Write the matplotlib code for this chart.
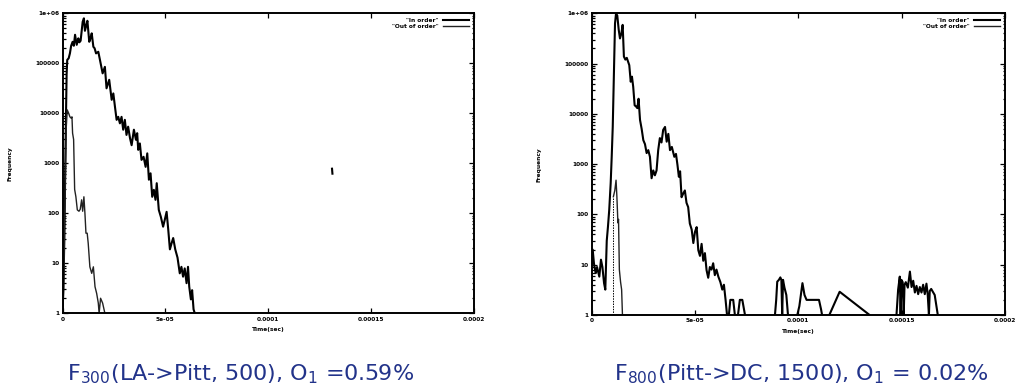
import numpy as np
import matplotlib
matplotlib.use("Agg")
import matplotlib.pyplot as plt
from matplotlib.ticker import FixedLocator, FixedFormatter, LogLocator, NullFormatter

plt.rcParams['font.family'] = ['DejaVu Sans']
plt.rcParams['mathtext.fontset'] = 'dejavusans'

# ---------------- data (time in units of 1e-5 s) ----------------
left_in_t = [0.0, 0.04, 0.08, 0.12, 0.16, 0.2, 0.23, 0.3, 0.36, 0.42, 0.49, 0.55, 0.61, 0.69, 0.77,
             0.82, 0.88, 0.98, 1.04, 1.09, 1.14, 1.21, 1.30, 1.36, 1.42, 1.50, 1.56, 1.63, 1.74, 1.82,
             1.95, 2.06, 2.14, 2.27, 2.39, 2.47, 2.55, 2.63, 2.71, 2.79, 2.87, 2.95, 3.03, 3.11, 3.19,
             3.28, 3.36, 3.47, 3.57, 3.63, 3.68, 3.76, 3.84, 3.94, 4.04, 4.12, 4.20, 4.28, 4.36, 4.44,
             4.52, 4.58, 4.68, 4.78, 4.89, 4.97, 5.06, 5.14, 5.22, 5.30, 5.38, 5.48, 5.59, 5.70, 5.78,
             5.86, 5.94, 6.03, 6.10, 6.16, 6.24, 6.30, 6.37, 6.43, 9.0, 13.10, 13.12]
left_in_v = [1, 3, 20, 300, 5000, 60000, 117000, 126000, 158000, 224000, 269000, 224000, 372000,
             234000, 316000, 263000, 282000, 676000, 794000, 447000, 537000, 708000, 269000, 316000,
             398000, 214000, 200000, 158000, 170000, 117000, 63000, 85000, 31600, 46800, 18600, 25000,
             13500, 7400, 8500, 6300, 8500, 4700, 7400, 3700, 5400, 3200, 2300, 4700, 2950, 4000, 1860,
             2500, 1170, 1350, 850, 1580, 470, 630, 214, 295, 186, 400, 117, 85, 54, 74, 107, 47, 19,
             25, 32, 19, 13, 6.3, 8.5, 5.4, 7.9, 4, 8.5, 3.4, 1.9, 2.9, 1.2, 1, np.nan, 780, 620]

left_out_t = [0.02, 0.06, 0.1, 0.14, 0.18, 0.23, 0.3, 0.36, 0.42, 0.46, 0.49, 0.54, 0.59, 0.65, 0.72,
              0.8, 0.86, 0.93, 0.98, 1.04, 1.09, 1.14, 1.2, 1.25, 1.33, 1.42, 1.5, 1.58, 1.66, 1.74,
              1.78, 1.85, 1.95, 2.06]
left_out_v = [1, 4, 40, 600, 5000, 11700, 10000, 8500, 8000, 8500, 4000, 3000, 300, 215, 117, 110,
              120, 186, 110, 214, 100, 40, 40, 25, 8.5, 6.3, 8.5, 3.4, 2.5, 1.6, 1, 2, 1.6, 1]

right_in_t = [0.0, 0.05, 0.11, 0.16, 0.2, 0.26, 0.32, 0.37, 0.45, 0.52, 0.6, 0.66, 0.73, 0.79, 0.85,
              0.92, 0.97, 1.02, 1.08, 1.13, 1.18, 1.24, 1.31, 1.37, 1.44, 1.50, 1.56, 1.63, 1.70, 1.76,
              1.82, 1.89, 1.95, 2.01, 2.08, 2.15, 2.21, 2.27, 2.34, 2.42, 2.5, 2.58, 2.66, 2.74, 2.82,
              2.9, 2.98, 3.06, 3.14, 3.22, 3.30, 3.38, 3.46, 3.55, 3.63, 3.71, 3.79, 3.88, 4.0, 4.08,
              4.15, 4.22, 4.28, 4.35, 4.43, 4.51, 4.59, 4.67, 4.75, 4.84, 4.92, 5.0, 5.08, 5.16, 5.24,
              5.32, 5.40, 5.48, 5.56, 5.64, 5.72, 5.80, 5.88, 5.96, 6.04, 6.13, 6.23, 6.32, 6.40, 6.48,
              6.55, 6.64, 6.71, 6.85, 6.93, 7.08, 7.17, 7.29, 7.42, 8.0,
              8.87, 8.93, 8.98, 9.06, 9.13, 9.18, 9.22, 9.26, 9.33, 9.42, 9.50, 9.7,
              9.95, 10.05, 10.2, 10.3, 10.4, 11.0, 11.1, 11.15, 11.3,
              11.5, 12.0, 13.45, 14.0,
              14.75, 14.83, 14.91, 14.95, 14.99, 15.05, 15.1, 15.14, 15.2, 15.3, 15.4, 15.48, 15.56,
              15.64, 15.72, 15.8, 15.88, 15.96, 16.04, 16.12, 16.2, 16.26, 16.32, 16.36, 16.43, 16.6,
              16.75]
right_in_v = [10, 20, 10.7, 8, 6.8, 9, 7, 5.8, 12.6, 9, 4.3, 3.2, 30, 58, 123, 417, 1400, 5500,
              74000, 630000, 1000000, 900000, 468000, 316000, 400000, 589000, 138000, 120000, 130000,
              110000, 93000, 43600, 55000, 34700, 14800, 14000, 13000, 20000, 7600, 5000, 3000, 2500,
              1660, 1900, 1400, 525, 750, 600, 750, 1900, 3300, 2700, 4800, 5500, 2800, 4000, 1900,
              2200, 1400, 1600, 980, 560, 720, 220, 260, 300, 170, 140, 66, 50, 27, 45, 56, 19.5, 15,
              26, 12, 17, 7.8, 5.5, 9, 8, 10.7, 6.2, 8, 5.8, 4.5, 3.2, 4, 2,
              1, 1, 2, 2, 1, 1, 2, 2, 1, np.nan,
              1, 2, 4.6, 5, 5.6, 5, 1, 5, 3.5, 2.5, 1, np.nan,
              1, 1.5, 4.3, 2.5, 2, 2, 1.3, 1, np.nan,
              1, 2.9, 1, np.nan,
              1, 3.2, 5.8, 1, 5, 4.5, 1, 4, 4.5, 3.5, 7.3, 3.6, 4.8, 2.8, 3.8, 2.6, 3.6, 2.8, 4, 2.6,
              4.2, 2.6, 1, 3, 3.3, 2.5, 1]

right_out_t = [1.05, 1.05, 1.12, 1.18, 1.22, 1.27, 1.3, 1.34, 1.4, 1.45, 1.49]
right_out_v = [1, 225, 300, 480, 230, 68, 80, 8, 4.5, 3.2, 1]

x_ticks = [0, 5e-05, 0.0001, 0.00015, 0.0002]
x_tick_labels = ["0", "5e-05", "0.0001", "0.00015", "0.0002"]
y_ticks = [1, 10, 100, 1000, 10000, 100000, 1000000]
y_tick_labels = ["1", "10", "100", "1000", "10000", "100000", "1e+06"]
series_labels = ['"In order"', '"Out of order"']
titles = [r"F$_{300}$(LA->Pitt, 500), O$_1$ =0.59%",
          r"F$_{800}$(Pitt->DC, 1500), O$_1$ = 0.02%"]

SCALE = 1e-5

fig = plt.figure(figsize=(10.18, 3.89), dpi=100)
axL = fig.add_axes([0.0614, 0.1946, 0.4042, 0.7712])
axR = fig.add_axes([0.5812, 0.1902, 0.4060, 0.7756])


def style(ax):
    ax.set_yscale('log')
    ax.set_xlim(0, 0.0002)
    ax.set_ylim(1, 1e6)
    ax.xaxis.set_major_locator(FixedLocator(x_ticks))
    ax.xaxis.set_major_formatter(FixedFormatter(x_tick_labels))
    ax.yaxis.set_major_locator(FixedLocator(y_ticks))
    ax.yaxis.set_major_formatter(FixedFormatter(y_tick_labels))
    ax.yaxis.set_minor_locator(LogLocator(base=10, subs=np.arange(2, 10), numticks=20))
    ax.yaxis.set_minor_formatter(NullFormatter())
    ax.tick_params(which='both', direction='in', top=True, right=True, labelsize=4.2,
                   width=0.9, colors='black')
    ax.tick_params(which='major', length=3.5, pad=2.5)
    ax.tick_params(which='minor', length=1.8)
    for s in ax.spines.values():
        s.set_linewidth(1.4)
    ax.set_xlabel("Time(sec)", fontsize=4.2, labelpad=4)
    ax.set_ylabel("Frequency", fontsize=4.2, labelpad=16)
    for lab in ax.get_xticklabels() + ax.get_yticklabels():
        lab.set_fontweight('bold')
    ax.xaxis.label.set_fontweight('bold')
    ax.yaxis.label.set_fontweight('bold')


for ax, it, iv, ot, ov in [(axL, left_in_t, left_in_v, left_out_t, left_out_v),
                           (axR, right_in_t, right_in_v, right_out_t, right_out_v)]:
    style(ax)
    it = np.array(it) * SCALE
    ot = np.array(ot) * SCALE
    ax.plot(it, iv, color='black', lw=1.5, label=series_labels[0])
    if ax is axR:
        ax.plot(ot[:2], ov[:2], color='black', lw=0.7, ls=(0, (1.5, 1.2)))
        ax.plot(ot[1:], ov[1:], color='#222222', lw=1.0, label=series_labels[1])
    else:
        ax.plot(ot, ov, color='#222222', lw=1.0, label=series_labels[1])
    leg = ax.legend(loc='upper right', fontsize=4.2, frameon=False, markerfirst=False,
                    handlelength=4.5, handletextpad=0.8, borderaxespad=0.4, labelspacing=0.15)
    for t in leg.get_texts():
        t.set_fontweight('bold')

title_color = '#22338a'
fig.text(0.236, 0.022, titles[0], ha='center', va='baseline', fontsize=16, color=title_color)
fig.text(0.787, 0.022, titles[1], ha='center', va='baseline', fontsize=16, color=title_color)

fig.savefig("out.png", dpi=100)
